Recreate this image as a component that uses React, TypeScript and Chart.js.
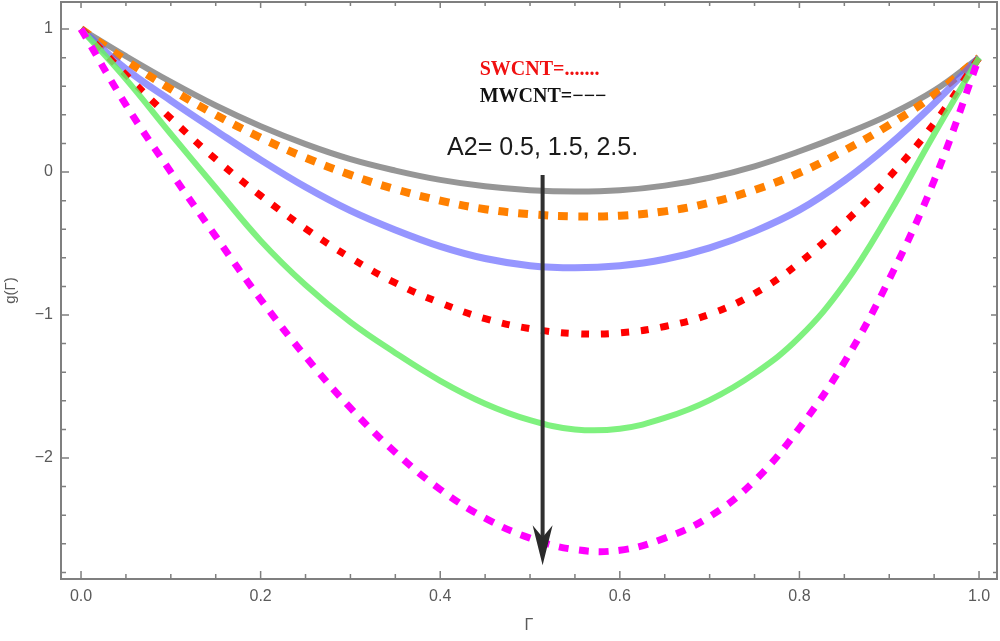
import React, { useEffect, useRef } from "react";
import { Chart, registerables } from "chart.js";

Chart.register(...registerables);

// Γ values along the x axis
const gamma = [0, 0.05, 0.1, 0.15, 0.2, 0.25, 0.3, 0.35, 0.4, 0.45, 0.5, 0.55, 0.6, 0.65, 0.7, 0.75, 0.8, 0.85, 0.9, 0.95, 1.0];

// g(Γ), A2 = 0.5 / 1.5 / 2.5
const mwcnt05 = [1, 0.81, 0.63, 0.465, 0.32, 0.195, 0.09, 0.01, -0.055, -0.1, -0.127, -0.137, -0.128, -0.095, -0.04, 0.04, 0.145, 0.265, 0.4, 0.57, 0.8];
const swcnt05 = [1, 0.78, 0.58, 0.4, 0.24, 0.1, -0.02, -0.12, -0.2, -0.26, -0.295, -0.31, -0.305, -0.275, -0.215, -0.125, -0.005, 0.15, 0.33, 0.54, 0.8];
const mwcnt15 = [1, 0.72, 0.5, 0.29, 0.085, -0.105, -0.27, -0.405, -0.52, -0.605, -0.655, -0.67, -0.655, -0.61, -0.53, -0.415, -0.265, -0.06, 0.19, 0.48, 0.8];
const swcnt15 = [1, 0.68, 0.375, 0.09, -0.165, -0.395, -0.6, -0.775, -0.915, -1.025, -1.095, -1.13, -1.125, -1.08, -0.995, -0.85, -0.635, -0.355, -0.035, 0.34, 0.8];
const mwcnt25 = [1, 0.65, 0.266, -0.11, -0.48, -0.79, -1.05, -1.265, -1.46, -1.62, -1.735, -1.8, -1.795, -1.72, -1.595, -1.41, -1.155, -0.785, -0.29, 0.265, 0.8];
const swcnt25 = [1, 0.47, 0, -0.45, -0.89, -1.29, -1.65, -1.96, -2.22, -2.42, -2.56, -2.64, -2.645, -2.56, -2.41, -2.16, -1.79, -1.33, -0.75, -0.06, 0.8];

// tick labels
const xTicks = [0, 0.2, 0.4, 0.6, 0.8, 1.0];
const xTickLabels = ["0.0", "0.2", "0.4", "0.6", "0.8", "1.0"];
const yTicks = [1, 0, -1, -2];
const yTickLabels = ["1", "0", "\u22121", "\u22122"];

const FRAME = "#7f7f7f";
const LABEL = "#5a5a5a";

const toPoints = (ys: number[]) => gamma.map((g, i) => ({ x: g, y: ys[i] }));

// frame with inward ticks, arrow and text notes
const framePlugin = {
  id: "frame",
  afterDatasetsDraw(chart: any) {
    const { ctx, chartArea: a, scales } = chart;
    const sx = scales.x;
    const sy = scales.y;
    ctx.save();

    // arrow for increasing A2
    const ax = sx.getPixelForValue(0.514);
    const aTop = sy.getPixelForValue(-0.02);
    const aTip = sy.getPixelForValue(-2.75);
    ctx.strokeStyle = "#303030";
    ctx.lineWidth = 4;
    ctx.beginPath();
    ctx.moveTo(ax, aTop);
    ctx.lineTo(ax, aTip - 20);
    ctx.stroke();
    ctx.fillStyle = "#2a2a2a";
    ctx.beginPath();
    ctx.moveTo(ax, aTip);
    ctx.lineTo(ax - 10, aTip - 40);
    ctx.lineTo(ax, aTip - 28);
    ctx.lineTo(ax + 10, aTip - 40);
    ctx.closePath();
    ctx.fill();

    // notes
    ctx.textBaseline = "middle";
    ctx.textAlign = "left";
    ctx.font = "bold 20px 'Liberation Serif'";
    ctx.fillStyle = "#f01010";
    ctx.fillText("SWCNT=.......", sx.getPixelForValue(0.444), sy.getPixelForValue(0.713));
    ctx.fillStyle = "#111";
    ctx.fillText("MWCNT=\u2212\u2212\u2212", sx.getPixelForValue(0.444), sy.getPixelForValue(0.524));
    ctx.textAlign = "center";
    ctx.font = "25px 'Liberation Sans'";
    ctx.fillStyle = "#1a1a1a";
    ctx.fillText("A2= 0.5, 1.5, 2.5.", sx.getPixelForValue(0.514), sy.getPixelForValue(0.168));

    // ticks
    ctx.strokeStyle = FRAME;
    ctx.lineWidth = 1.5;
    ctx.beginPath();
    for (let i = 0; i <= 20; i++) {
      const px = sx.getPixelForValue(i * 0.05);
      const major = i % 4 === 0;
      ctx.moveTo(px, a.bottom);
      ctx.lineTo(px, a.bottom - (major ? 8 : 5));
      ctx.moveTo(px, a.top);
      ctx.lineTo(px, a.top + (major ? 6 : 4));
    }
    for (let i = -14; i <= 5; i++) {
      const py = sy.getPixelForValue(i * 0.2);
      const major = i % 5 === 0;
      ctx.moveTo(a.left, py);
      ctx.lineTo(a.left + (major ? 8 : 5), py);
      ctx.moveTo(a.right, py);
      ctx.lineTo(a.right - (major ? 6 : 4), py);
    }
    ctx.stroke();

    ctx.lineWidth = 2;
    ctx.strokeRect(a.left, a.top, a.right - a.left, a.bottom - a.top);
    ctx.restore();
  },
};

const App = () => {
  const canvasRef = useRef<HTMLCanvasElement | null>(null);
  const chartRef = useRef<Chart | null>(null);

  useEffect(() => {
    const ctx = canvasRef.current;
    if (!ctx) return;
    if (chartRef.current) chartRef.current.destroy();

    const line = (label: string, ys: number[], color: string, width: number, dash: number[] = []) => ({
      label,
      data: toPoints(ys),
      borderColor: color,
      backgroundColor: color,
      borderWidth: width,
      borderDash: dash,
      borderCapStyle: "butt",
      pointRadius: 0,
      tension: 0.4,
      fill: false,
    });

    chartRef.current = new Chart(ctx, {
      type: "line",
      data: {
        datasets: [
          line("SWCNT A2=2.5", swcnt25, "#ff00ff", 7, [10, 10]),
          line("MWCNT A2=2.5", mwcnt25, "rgba(105,238,105,0.85)", 6),
          line("SWCNT A2=1.5", swcnt15, "#ff0000", 7, [8, 12]),
          line("MWCNT A2=1.5", mwcnt15, "rgba(100,100,255,0.68)", 7),
          line("SWCNT A2=0.5", swcnt05, "#ff8000", 8, [10, 10]),
          line("MWCNT A2=0.5", mwcnt05, "rgba(115,115,115,0.75)", 6),
        ] as any,
      },
      options: {
        responsive: true,
        maintainAspectRatio: false,
        animation: false,
        layout: { padding: { top: 2, right: 3, left: 0, bottom: 0 } },
        plugins: {
          legend: { display: false },
          tooltip: { enabled: false },
        },
        scales: {
          x: {
            type: "linear",
            min: -0.0223,
            max: 1.02,
            grid: { display: false, drawTicks: false },
            border: { display: false },
            afterFit: (s: any) => {
              s.height = 62;
              s.paddingLeft = 0;
              s.paddingRight = 0;
            },
            afterBuildTicks: (s: any) => {
              s.ticks = xTicks.map((v) => ({ value: v }));
            },
            ticks: {
              color: LABEL,
              padding: 8,
              maxRotation: 0,
              autoSkip: false,
              font: { family: "'Liberation Sans'", size: 16 },
              callback: (v: any) => xTickLabels[xTicks.indexOf(Number(v))] ?? "",
            },
            title: {
              display: true,
              text: "\u0393",
              color: LABEL,
              font: { family: "'Liberation Sans'", size: 16 },
              padding: { top: 2, bottom: 6 },
            },
          },
          y: {
            type: "linear",
            min: -2.846,
            max: 1.189,
            grid: { display: false, drawTicks: false },
            border: { display: false },
            afterFit: (s: any) => {
              s.width = 61;
              s.paddingTop = 0;
              s.paddingBottom = 0;
            },
            afterBuildTicks: (s: any) => {
              s.ticks = yTicks.map((v) => ({ value: v }));
            },
            ticks: {
              color: LABEL,
              padding: 8,
              autoSkip: false,
              font: { family: "'Liberation Sans'", size: 16 },
              callback: (v: any) => yTickLabels[yTicks.indexOf(Number(v))] ?? "",
            },
            title: {
              display: true,
              text: "g(\u0393)",
              color: LABEL,
              font: { family: "'Liberation Sans'", size: 15 },
              padding: { top: 2, bottom: 2 },
            },
          },
        },
      },
      plugins: [framePlugin],
    } as any);

    return () => {
      if (chartRef.current) {
        chartRef.current.destroy();
        chartRef.current = null;
      }
    };
  }, []);

  return (
    <div style={{ position: "absolute", left: 0, top: 0, width: 1000, height: 641, background: "#fff" }}>
      <canvas ref={canvasRef} />
    </div>
  );
};

export default App;
